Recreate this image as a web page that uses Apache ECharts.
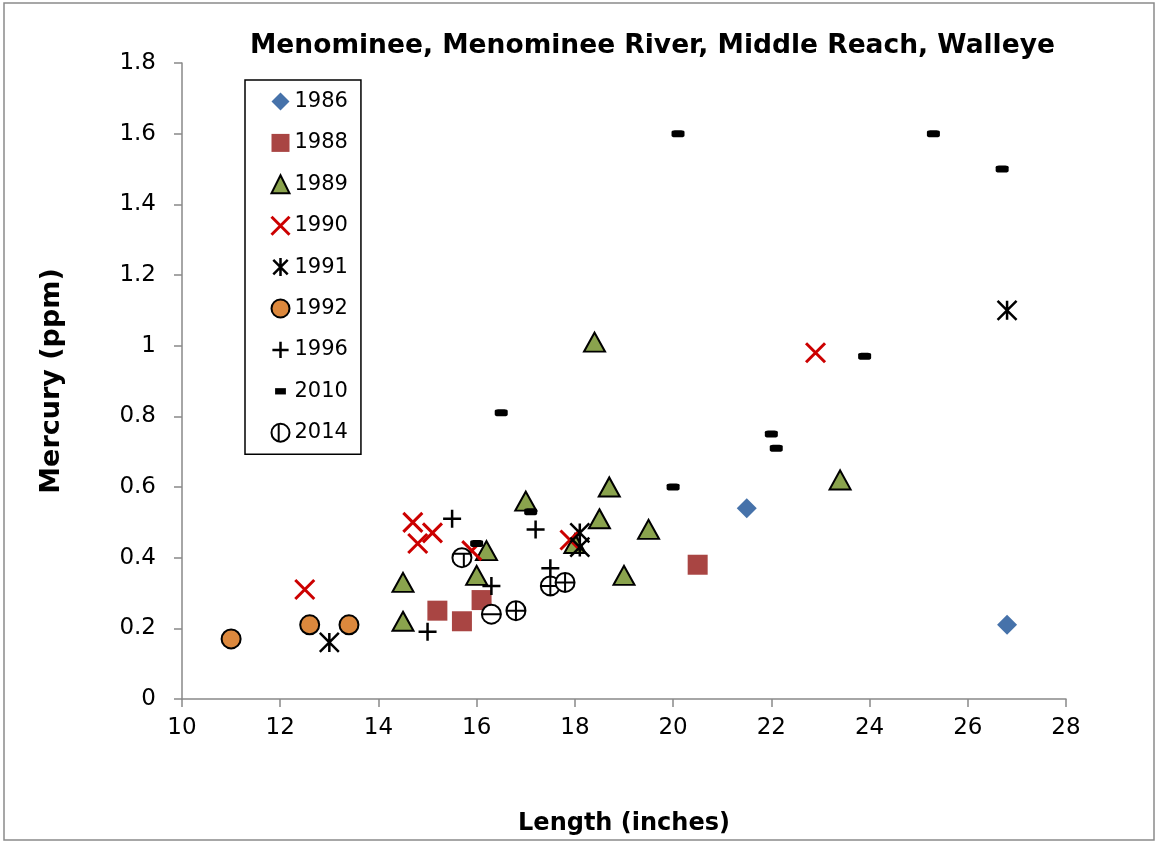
<!DOCTYPE html>
<html>
<head>
<meta charset="utf-8">
<script src="https://cdn.jsdelivr.net/npm/echarts@6/dist/echarts.min.js"></script>
<style>
html,body{margin:0;padding:0;background:#fff;}
#chart{width:1156px;height:842px;}
</style>
</head>
<body>
<div id="chart"></div>
<script>
// ---- data ----
const titleText = 'Menominee, Menominee River, Middle Reach, Walleye';
const xAxisTitle = 'Length (inches)';
const yAxisTitle = 'Mercury (ppm)';
const xTickValues = [10, 12, 14, 16, 18, 20, 22, 24, 26, 28];
const yTickValues = [0, 0.2, 0.4, 0.6, 0.8, 1, 1.2, 1.4, 1.6, 1.8];
const seriesNames = ['1986', '1988', '1989', '1990', '1991', '1992', '1996', '2010', '2014'];

const data1986 = [[21.5, 0.54], [26.8, 0.21]];
const data1988 = [[15.2, 0.25], [15.7, 0.22], [16.1, 0.28], [20.5, 0.38]];
const data1989 = [[14.5, 0.33], [14.5, 0.22], [16.0, 0.35], [16.2, 0.42], [17.0, 0.56], [18.4, 1.01],
                  [18.0, 0.44], [18.5, 0.51], [18.7, 0.60], [19.0, 0.35], [19.5, 0.48], [23.4, 0.62]];
const data1990 = [[12.5, 0.31], [14.7, 0.50], [14.8, 0.44], [15.1, 0.47], [15.9, 0.42], [17.9, 0.45], [22.9, 0.98]];
const data1991 = [[13.0, 0.16], [18.1, 0.47], [18.1, 0.43], [26.8, 1.10]];
const data1992 = [[11.0, 0.17], [12.6, 0.21], [13.4, 0.21]];
const data1996 = [[15.0, 0.19], [15.5, 0.51], [16.3, 0.32], [17.2, 0.48], [17.5, 0.37]];
const data2010 = [[16.0, 0.44], [17.1, 0.53], [16.5, 0.81], [20.0, 0.60], [20.1, 1.60], [22.0, 0.75],
                  [22.1, 0.71], [23.9, 0.97], [25.3, 1.60], [26.7, 1.50]];
const data2014 = [[15.7, 0.40], [16.3, 0.24], [16.8, 0.25], [17.5, 0.32], [17.8, 0.33]];

// ---- styles ----
const FONT = 'DejaVu Sans';
const AXIS_GREY = '#898989';
const circ = 'M0,10 A10,10 0 1,1 20,10 A10,10 0 1,1 0,10 Z';
const sym2014 = {
  plus: 'path://' + circ + ' M10,0 L10,20 M0,10 L20,10',
  minus: 'path://' + circ + ' M0,10 L20,10',
  tee: 'path://' + circ + ' M1.5,6 L18.5,6 M12,6 L12,19.8'
};
const style2014 = ['tee', 'minus', 'plus', 'plus', 'plus'];
const symX = 'path://M0,0 L20,20 M20,0 L0,20';
const symAst = 'path://M0,0 L20,20 M20,0 L0,20 M10,0 L10,20';
const symPlus = 'path://M10,0 L10,20 M0,10 L20,10';

function mk(name, data, symbol, size, itemStyle) {
  return {
    name: name, type: 'scatter', data: data, symbol: symbol, symbolSize: size,
    itemStyle: Object.assign({opacity: 1}, itemStyle), emphasis: {disabled: true}, z: 2
  };
}

const chart = echarts.init(document.getElementById('chart'), null, {renderer: 'canvas'});
const option = {
  animation: false,
  backgroundColor: '#fff',
  title: {
    text: titleText, left: 245, top: 28,
    textStyle: {fontFamily: FONT, fontWeight: 'bold', fontSize: 26.5, color: '#000'}
  },
  grid: {left: 182, right: 90, top: 63, bottom: 143, containLabel: false},
  graphic: [{
    type: 'rect', shape: {x: 4, y: 3, width: 1150, height: 837},
    style: {fill: 'none', stroke: '#8a8a8a', lineWidth: 1.5}, silent: true, z: -1
  }],
  legend: {
    orient: 'vertical', left: 245, top: 80,
    padding: [11, 13, 11, 25], itemGap: 20.4, itemWidth: 18, itemHeight: 18,
    borderColor: '#000', borderWidth: 1.5, backgroundColor: '#fff',
    textStyle: {fontFamily: FONT, fontSize: 21, color: '#000'},
    selectedMode: false,
    data: [
      {name: '1986', icon: 'path://M10,0 L20,10 L10,20 L0,10 Z'},
      {name: '1988', icon: 'path://M0,0 L20,0 L20,20 L0,20 Z'},
      {name: '1989', itemStyle: {borderWidth: 2, borderColor: '#000'}},
      {name: '1990', itemStyle: {borderWidth: 3, borderColor: '#CC0000', color: 'rgba(0,0,0,0)'}},
      {name: '1991', icon: 'path://M2,2 L18,18 M18,2 L2,18 M10,0 L10,20', itemStyle: {borderWidth: 2.5, borderColor: '#000', color: 'rgba(0,0,0,0)'}},
      {name: '1992', itemStyle: {borderWidth: 2, borderColor: '#000'}},
      {name: '1996', icon: 'path://M0,0 M10,1 L10,19 M1,10 L19,10 M20,20', itemStyle: {borderWidth: 2.5, borderColor: '#000', color: 'rgba(0,0,0,0)'}},
      {name: '2010', icon: 'path://M0,0 M4,5.5 L16,5.5 L16,12.5 L4,12.5 Z M20,18'},
      {name: '2014', icon: 'path://' + circ + ' M8,0.5 L8,19.5', itemStyle: {borderWidth: 2, borderColor: '#000', color: '#fff'}}
    ]
  },
  xAxis: {
    type: 'value', min: 10, max: 28, interval: 2,
    name: xAxisTitle, nameLocation: 'middle', nameGap: 113,
    nameTextStyle: {fontFamily: FONT, fontWeight: 'bold', fontSize: 24, color: '#000'},
    axisLine: {show: true, lineStyle: {color: AXIS_GREY, width: 1.5}},
    axisTick: {show: true, length: 8, lineStyle: {color: AXIS_GREY, width: 1.5}, customValues: xTickValues},
    axisLabel: {fontFamily: FONT, fontSize: 23, color: '#000', margin: 18, customValues: xTickValues},
    splitLine: {show: false}
  },
  yAxis: {
    type: 'value', min: 0, max: 1.8, interval: 0.2,
    name: yAxisTitle, nameLocation: 'middle', nameGap: 117, nameRotate: 90,
    nameTextStyle: {fontFamily: FONT, fontWeight: 'bold', fontSize: 27, color: '#000'},
    axisLine: {show: true, lineStyle: {color: AXIS_GREY, width: 1.5}},
    axisTick: {show: true, length: 8, lineStyle: {color: AXIS_GREY, width: 1.5}, customValues: yTickValues},
    axisLabel: {fontFamily: FONT, fontSize: 23, color: '#000', margin: 26, customValues: yTickValues,
      formatter: v => String(v)},
    splitLine: {show: false}
  },
  series: [
    mk('1986', data1986, 'diamond', 20, {color: '#4672AA'}),
    mk('1988', data1988, 'rect', 20, {color: '#A94543'}),
    mk('1989', data1989, 'triangle', [21, 19], {color: '#8AA34D', borderColor: '#000', borderWidth: 2}),
    mk('1990', data1990, symX, 19, {color: 'rgba(0,0,0,0)', borderColor: '#CC0000', borderWidth: 3}),
    mk('1991', data1991, symAst, 19, {color: 'rgba(0,0,0,0)', borderColor: '#000', borderWidth: 2.5}),
    mk('1992', data1992, 'circle', 19, {color: '#DC883D', borderColor: '#000', borderWidth: 2}),
    mk('1996', data1996, symPlus, 18, {color: 'rgba(0,0,0,0)', borderColor: '#000', borderWidth: 2.5}),
    mk('2010', data2010, 'roundRect', [13, 7], {color: '#000'}),
    mk('2014', data2014, function (val, params) { return sym2014[style2014[params.dataIndex]]; }, 19,
      {color: '#fff', borderColor: '#000', borderWidth: 2})
  ]
};
chart.setOption(option);
</script>
</body>
</html>
